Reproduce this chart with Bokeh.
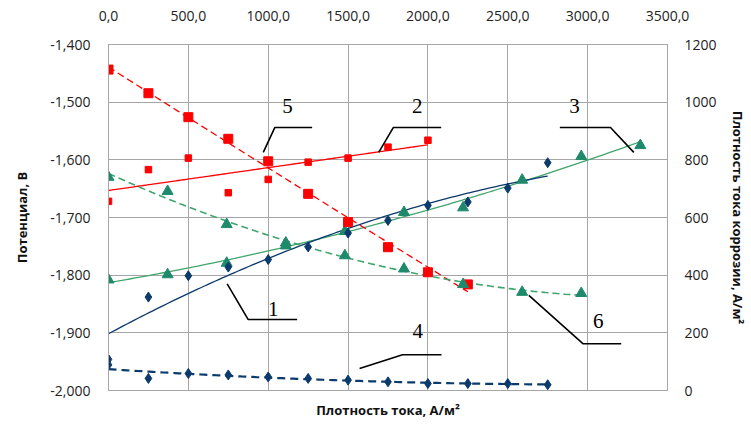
import numpy as np
from bokeh.plotting import figure
from bokeh.models import (Range1d, LinearAxis, FixedTicker, CustomJSTickFormatter,
                          Grid, Label)
from bokeh.core.properties import value
from bokeh.embed import file_html
from bokeh.resources import INLINE

# Current density, A/m² (two measurement grids)
cd_a = [0, 250, 500, 750, 1000, 1250, 1500, 1750, 2000, 2250, 2500, 2750]
cd_b = [0, 370, 740, 1110, 1480, 1850, 2220, 2590, 2960, 3330]

# Potential, V (left axis)
pot_1 = [-1.946, -1.838, -1.801, -1.786, -1.773, -1.751, -1.727, -1.705, -1.679, -1.673, -1.649, -1.605]
pot_2 = [-1.672, -1.617, -1.597, -1.657, -1.634, -1.604, -1.597, -1.578, -1.566]
pot_3 = [-1.808, -1.799, -1.779, -1.749, -1.724, -1.691, -1.683, -1.635, -1.594, -1.575]

# Corrosion current density, A/m² (right axis)
corr_4 = [89, 42, 59, 54, 47, 42, 36, 30, 24, 24, 24, 20]
corr_5 = [1113, 1031, 948, 873, 795, 682, 584, 497, 410, 368]
corr_6 = [740, 691, 576, 512, 468, 422, 368, 341, 337]

# Axis ticks
top_ticks = [0, 500, 1000, 1500, 2000, 2500, 3000, 3500]
left_ticks = [-2.0, -1.9, -1.8, -1.7, -1.6, -1.5, -1.4]
right_ticks = [0, 200, 400, 600, 800, 1000, 1200]

# Curve numbers with their leader lines (current density, potential)
curve_names = ["1", "2", "3", "4", "5", "6"]
name_x = [1031, 1933, 2918, 1937, 1121, 3066]
name_y = [-1.858, -1.506, -1.506, -1.897, -1.506, -1.880]
leader_x = [[743, 875, 1181], [1692, 1783, 2083], [2826, 3143, 3289],
            [1572, 1841, 2085], [969, 1041, 1275], [2632, 2972, 3210]]
leader_y = [[-1.815, -1.877, -1.877], [-1.587, -1.544, -1.544], [-1.544, -1.544, -1.587],
            [-1.962, -1.938, -1.938], [-1.587, -1.544, -1.544], [-1.835, -1.919, -1.919]]

FONT = "Open Sans"
GRID = "#a6a6a6"
RED = "#ff0000"
NAVY = "#0b3a6c"
TEAL = "#1f8a6b"
GREEN = "#3fa56c"

p = figure(width=751, height=424, output_backend="svg", toolbar_location=None,
           x_range=Range1d(0, 3500), y_range=Range1d(-2.0, -1.4),
           x_axis_location=None, y_axis_location=None,
           min_border_left=108, min_border_right=84, min_border_top=44, min_border_bottom=34)
p.extra_y_ranges = {"corr": Range1d(0, 1200)}
p.outline_line_color = GRID
p.background_fill_color = "white"
p.border_fill_color = "white"
p.xgrid.visible = False
p.ygrid.visible = False


def style_axis(ax):
    ax.axis_line_color = GRID
    ax.axis_line_width = 1
    ax.major_tick_line_color = None
    ax.minor_tick_line_color = None
    ax.major_label_text_font = FONT
    ax.major_label_text_font_size = "14px"
    ax.major_label_text_color = "#222222"
    ax.axis_label_text_font = FONT
    ax.axis_label_text_font_size = "13px"
    ax.axis_label_text_font_style = "bold"
    ax.axis_label_text_color = "#111111"


left = LinearAxis(ticker=FixedTicker(ticks=left_ticks), axis_label="Потенциал, В",
                  formatter=CustomJSTickFormatter(code="return tick.toFixed(3).replace('.', ',');"))
style_axis(left)
left.major_label_standoff = 12
left.axis_label_standoff = 16
p.add_layout(left, "left")

right = LinearAxis(y_range_name="corr", ticker=FixedTicker(ticks=right_ticks),
                   axis_label="Плотность тока коррозии, А/м²",
                   formatter=CustomJSTickFormatter(code="return tick.toFixed(0);"))
style_axis(right)
right.major_label_standoff = 11
right.axis_label_standoff = 9
p.add_layout(right, "right")

top = LinearAxis(ticker=FixedTicker(ticks=top_ticks),
                 formatter=CustomJSTickFormatter(code="return tick.toFixed(1).replace('.', ',');"))
style_axis(top)
top.major_label_standoff = 18
p.add_layout(top, "above")

bottom = LinearAxis(ticker=FixedTicker(ticks=[]), axis_label="Плотность тока, А/м²")
style_axis(bottom)
bottom.major_label_text_font_size = "0px"
bottom.axis_label_standoff = 10
p.add_layout(bottom, "below")

p.add_layout(Grid(dimension=0, ticker=top.ticker, grid_line_color=GRID, grid_line_width=1))
p.add_layout(Grid(dimension=1, ticker=left.ticker, grid_line_color=GRID, grid_line_width=1))


def trend(xs, ys, deg):
    coef = np.polyfit(xs, ys, deg)
    xx = np.linspace(min(xs), max(xs), 120)
    return xx, np.polyval(coef, xx)


# Trend lines
tx, ty = trend(cd_a[:len(pot_2)], pot_2, 1)
p.line(tx, ty, line_color=RED, line_width=1.3)
tx, ty = trend(cd_b[:len(pot_3)], pot_3, 2)
p.line(tx, ty, line_color=GREEN, line_width=1.3)
tx, ty = trend(cd_a[:len(pot_1)], pot_1, 2)
p.line(tx, ty, line_color=NAVY, line_width=1.3)
tx, ty = trend(cd_a[:len(corr_5)], corr_5, 2)
p.line(tx, ty, line_color=RED, line_width=1.3, line_dash="7 4", y_range_name="corr")
tx, ty = trend(cd_b[:len(corr_6)], corr_6, 2)
p.line(tx, ty, line_color=GREEN, line_width=1.6, line_dash="7 4", y_range_name="corr")
tx, ty = trend(cd_a[:len(corr_4)], corr_4, 2)
p.line(tx, ty, line_color=NAVY, line_width=2.2, line_dash="8 5", y_range_name="corr")

# Measured points
p.scatter(cd_a[:len(pot_2)], pot_2, marker="square", size=6.5, color=RED)
p.scatter(cd_b[:len(pot_3)], pot_3, marker="triangle", size=11, color=TEAL)
p.scatter(cd_a[:len(pot_1)], pot_1, marker="diamond", size=10, color=NAVY)
p.scatter(cd_a[:len(corr_5)], corr_5, marker="square", size=9, color=RED, y_range_name="corr")
p.scatter(cd_b[:len(corr_6)], corr_6, marker="triangle", size=11, color=TEAL, y_range_name="corr")
p.scatter(cd_a[:len(corr_4)], corr_4, marker="diamond", size=10, color=NAVY, y_range_name="corr")

# Curve numbers
p.multi_line(leader_x, leader_y, line_color="black", line_width=1.6)
for name, nx, ny in zip(curve_names, name_x, name_y):
    p.add_layout(Label(x=nx, y=ny, text=name, text_font="Liberation Serif",
                       text_font_size="21px", text_align="center", text_baseline="middle",
                       text_color="black"))

open("out.html", "w").write(file_html(p, INLINE))
